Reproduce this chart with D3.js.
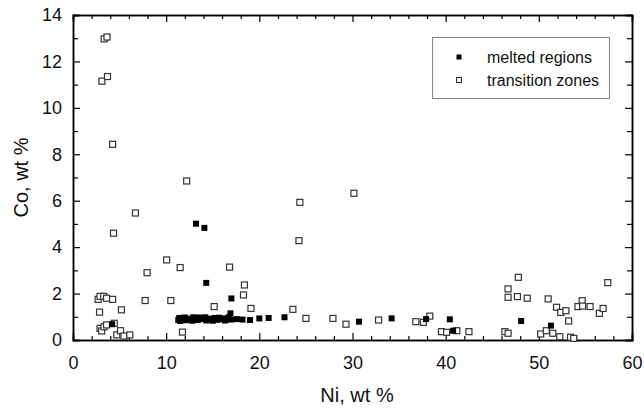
<!DOCTYPE html>
<html lang="en">
<head>
    <meta charset="UTF-8">
    <title>Co vs Ni</title>
    <style>
        body{ margin:0; background:white; }
        text{ font-family: "Liberation Sans", Arial, sans-serif; }
    </style>
</head>
<body>
    <script src="https://cdn.jsdelivr.net/npm/d3@7"></script>
    <script>
        // melted regions (filled squares)
        const meltedNi = [11.3, 11.4, 11.7, 12.0, 12.3, 12.6, 12.9, 13.1, 13.4, 13.7, 14.0, 14.3, 14.6, 14.9, 15.2, 15.5, 15.8, 16.1, 16.4, 16.7, 17.0,
            11.5, 12.1, 12.8, 13.5, 14.2, 15.0, 15.7, 16.3,
            13.2, 14.1, 14.3, 17.0, 16.9, 4.2, 17.6, 18.2, 19.0, 20.0, 21.0, 22.7, 30.7, 34.2, 37.9, 40.45, 40.8, 48.1, 51.3];
        const meltedCo = [0.86, 0.95, 0.9, 0.97, 0.92, 0.88, 0.98, 0.93, 0.86, 0.95, 0.9, 0.84, 0.92, 0.88, 0.95, 0.87, 0.9, 0.93, 0.86, 0.98, 0.88,
            0.82, 0.85, 0.83, 0.97, 0.98, 0.83, 0.96, 0.84,
            5.01, 4.83, 2.46, 1.79, 1.15, 0.68, 0.9, 0.88, 0.86, 0.93, 0.95, 0.98, 0.79, 0.93, 0.9, 0.89, 0.4, 0.82, 0.62];

        // transition zones (open squares)
        const transNi = [3.35, 3.65, 3.1, 3.7, 4.25, 4.35, 6.7, 12.2, 10.05, 11.5, 7.95, 7.75, 10.5, 15.15, 11.75,
            2.7, 2.9, 3.3, 3.6, 4.25, 2.85, 5.2,
            2.9, 3.08, 3.33, 3.6, 4.43, 4.7, 5.1, 5.47, 6.1,
            16.8, 18.4, 18.3, 19.1, 23.6, 25.0, 27.9, 29.3, 32.8, 36.8, 24.35, 24.25, 30.15,
            37.6, 38.3, 39.55, 40.1, 41.2, 42.5, 46.35, 46.7, 46.7, 46.7, 47.7, 47.8, 48.75, 50.2, 50.8, 51.0, 51.5, 51.9,
            52.25, 52.35, 52.9, 53.2, 53.4, 53.75, 54.2, 54.65, 54.7, 55.5, 56.5, 56.9, 57.4];
        const transCo = [12.97, 13.05, 11.15, 11.35, 8.43, 4.6, 5.47, 6.85, 3.45, 3.12, 2.9, 1.7, 1.7, 1.44, 0.34,
            1.75, 1.88, 1.88, 1.8, 1.75, 1.2, 1.3,
            0.5, 0.39, 0.57, 0.65, 0.72, 0.22, 0.4, 0.17, 0.22,
            3.14, 2.37, 1.94, 1.36, 1.32, 0.93, 0.93, 0.68, 0.86, 0.79, 5.93, 4.28, 6.32,
            0.76, 1.03, 0.36, 0.33, 0.4, 0.36, 0.36, 0.29, 2.2, 1.84, 1.87, 2.7, 1.8, 0.26, 0.4, 1.77, 0.29, 1.41,
            0.14, 1.19, 1.26, 0.82, 0.12, 0.07, 1.44, 1.69, 1.46, 1.44, 1.15, 1.36, 2.47];

        const xMajor = [0, 10, 20, 30, 40, 50, 60];
        const yMajor = [0, 2, 4, 6, 8, 10, 12, 14];
        const legendLabels = ['melted regions', 'transition zones'];

        const W = 644, H = 410;
        const m = {left: 73, right: 12, top: 15, bottom: 70};

        const svg = d3.select('body').append('svg')
            .attr('width', W).attr('height', H);

        const x = d3.scaleLinear().domain([0, 60]).range([m.left, W - m.right]);
        const y = d3.scaleLinear().domain([0, 14]).range([H - m.bottom, m.top]);

        const xMinor = d3.range(0, 61, 2).filter(v => !xMajor.includes(v));
        const yMinor = d3.range(0, 15, 1).filter(v => !yMajor.includes(v));

        function styleAxis(g){
            g.selectAll('path').attr('stroke', '#000').attr('stroke-width', 1.5);
            g.selectAll('line').attr('stroke', '#000').attr('stroke-width', 1.2);
            g.selectAll('text').attr('font-size', 18).attr('fill', '#111');
        }

        // bottom + top
        svg.append('g').attr('transform', `translate(0,${y(0)})`)
            .call(d3.axisBottom(x).tickValues(xMinor).tickSize(-4).tickFormat(''))
            .call(styleAxis);
        svg.append('g').attr('transform', `translate(0,${y(0)})`)
            .call(d3.axisBottom(x).tickValues(xMajor).tickSize(-7).tickPadding(16).tickFormat(d3.format('d')))
            .call(styleAxis);
        svg.append('g').attr('transform', `translate(0,${y(14)})`)
            .call(d3.axisTop(x).tickValues(xMinor).tickSize(-4).tickFormat(''))
            .call(styleAxis);
        svg.append('g').attr('transform', `translate(0,${y(14)})`)
            .call(d3.axisTop(x).tickValues(xMajor).tickSize(-7).tickFormat(''))
            .call(styleAxis);

        // left + right
        svg.append('g').attr('transform', `translate(${x(0)},0)`)
            .call(d3.axisLeft(y).tickValues(yMinor).tickSize(-5).tickFormat(''))
            .call(styleAxis);
        svg.append('g').attr('transform', `translate(${x(0)},0)`)
            .call(d3.axisLeft(y).tickValues(yMajor).tickSize(-7).tickPadding(11).tickFormat(d3.format('d')))
            .call(styleAxis);
        svg.append('g').attr('transform', `translate(${x(60)},0)`)
            .call(d3.axisRight(y).tickValues(yMinor).tickSize(-5).tickFormat(''))
            .call(styleAxis);
        svg.append('g').attr('transform', `translate(${x(60)},0)`)
            .call(d3.axisRight(y).tickValues(yMajor).tickSize(-7).tickFormat(''))
            .call(styleAxis);

        // axis titles
        svg.append('text')
            .attr('x', 357).attr('y', 402)
            .attr('text-anchor', 'middle')
            .attr('font-size', 20)
            .attr('fill', '#111')
            .text('Ni, wt %');
        svg.append('text')
            .attr('transform', `translate(28,${(y(0) + y(14)) / 2}) rotate(-90)`)
            .attr('text-anchor', 'middle')
            .attr('font-size', 20)
            .attr('fill', '#111')
            .text('Co, wt %');

        const s = 6;
        const melted = meltedNi.map((v, i) => ({ni: v, co: meltedCo[i]}));
        const trans = transNi.map((v, i) => ({ni: v, co: transCo[i]}));

        svg.append('g').selectAll('rect')
            .data(trans)
            .enter()
            .append('rect')
                .attr('x', d => x(d.ni) - s / 2)
                .attr('y', d => y(d.co) - s / 2)
                .attr('width', s).attr('height', s)
                .attr('fill', 'white')
                .attr('stroke', '#333')
                .attr('stroke-width', 1.2);

        svg.append('g').selectAll('rect')
            .data(melted)
            .enter()
            .append('rect')
                .attr('x', d => x(d.ni) - s / 2)
                .attr('y', d => y(d.co) - s / 2)
                .attr('width', s).attr('height', s)
                .attr('fill', '#000');

        // legend
        const lg = svg.append('g');
        lg.append('rect')
            .attr('x', 432.5).attr('y', 37.5)
            .attr('width', 177).attr('height', 61)
            .attr('fill', 'white').attr('stroke', '#888').attr('stroke-width', 1);
        legendLabels.forEach((lab, i) => {
            const cy = 57 + i * 23;
            lg.append('rect')
                .attr('x', 459 - 2.5).attr('y', cy - 2.5)
                .attr('width', 5).attr('height', 5)
                .attr('fill', i === 0 ? '#000' : 'white')
                .attr('stroke', i === 0 ? 'none' : '#333')
                .attr('stroke-width', 1.1);
            lg.append('text')
                .attr('x', 487).attr('y', cy + 6)
                .attr('font-size', 16)
                .attr('fill', '#111')
                .text(lab);
        });
    </script>
</body>
</html>
